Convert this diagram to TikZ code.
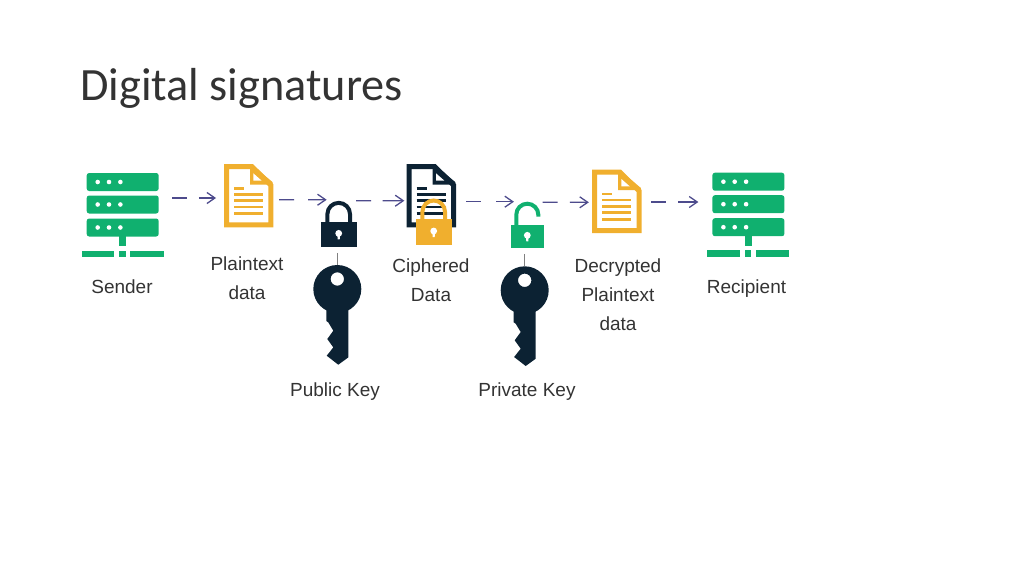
\documentclass[tikz,border=0pt]{standalone}
\usepackage{fontspec}
\setmainfont{Liberation Sans}
\newfontfamily\titlefont{Carlito}
\usetikzlibrary{arrows.meta}
\definecolor{servergreen}{HTML}{10B06F}
\definecolor{docorange}{HTML}{F0AF2E}
\definecolor{keynavy}{HTML}{0C2233}
\definecolor{flowblue}{HTML}{4D4B8C}
\definecolor{labelgray}{HTML}{333333}
\tikzset{
  icon/.style = {yscale=-1},
  iconbox/.style = {inner sep=0pt, outer sep=0pt},
  label/.style = {align=center, inner sep=0pt, text=labelgray, font=\fontsize{19}{29}\selectfont},
  flow/.style = {draw=flowblue, line width=1.2pt, dash pattern=on 15pt off #1 on 60pt, -{Straight Barb[length=8pt,width=11pt,line width=1.3pt]}},
  keylink/.style = {draw=gray, line width=1pt, shorten <=5.5pt},
  servericon/.pic = {
    \foreach \rowy in {-33,-10.5,12.5} {
      \fill[servergreen, rounded corners=2.5pt] (-36,\rowy-9) rectangle (36,\rowy+9);
      \foreach \dotx in {-25,-13.7,-2.3}
        \fill[white] (\dotx,\rowy) circle[radius=2.3];
    }
    \fill[servergreen] (-3.3,21) rectangle (3.3,31);
    \fill[servergreen] (-41,35.7) rectangle (-8.3,42.3);
    \fill[servergreen] (-3.6,35.7) rectangle (3,42.3);
    \fill[servergreen] (7.7,35.7) rectangle (41,42.3);
  },
  docicon/.pic = {
    \draw[#1, line width=5pt, fill=white, miter limit=4] (-22.2,-29.2) -- (3.2,-29.2) -- (22.2,-10.5) -- (22.2,29.2) -- (-22.2,29.2) -- cycle;
    \fill[#1] (1.3,-31) -- (3,-31) -- (24,-13.5) -- (24,-11.2) -- (1.3,-11.2) -- cycle;
    \fill[white] (4.6,-22.4) -- (4.6,-15) -- (13,-15) -- cycle;
    \draw[#1, line width=2.6pt] (-14.7,-7.4) -- (-4.7,-7.4);
    \foreach \liney in {-1.4,5,11.3,18}
      \draw[#1, line width=2.6pt] (-14.7,\liney) -- (14.6,\liney);
  },
  keyhole/.pic = {
    \fill[white] (0,0) circle[radius=3.4];
    \fill[white] (-1.4,1) -- (1.4,1) -- (1,6) -- (-1,6) -- cycle;
  },
  lockicon/.pic = {
    \draw[#1, line width=4pt] (-11.3,-24) -- (-11.3,-33.2) arc[start angle=180, end angle=360, radius=11.3] -- (11.3,-24);
    \fill[#1] (-18,-25.6) rectangle (18,0);
    \pic[icon] at (0,-14) {keyhole};
  },
  openlockicon/.pic = {
    \draw[#1, line width=4pt] (-11,-22) -- (-11,-33.6) arc[start angle=180, end angle=360, radius=11] -- (11,-31.6);
    \fill[#1] (-16.7,-23.3) rectangle (16.7,0);
    \pic[icon] at (0,-13) {keyhole};
  },
  keyicon/.pic = {
    \fill[keynavy, even odd rule] (0,24) circle[radius=24] (0,14) circle[radius=6.7];
    \fill[keynavy] (11,40) -- (11,92.4) -- (1,99.7) -- (-10.6,90.7) -- (-4,82.4) -- (-10,74) -- (-4,65.7) -- (-9,57.4) -- (-11,56) -- (-11,40) -- cycle;
  }
}
\begin{document}
\begin{tikzpicture}[x=1pt, y=1pt, yscale=-1]
  \useasboundingbox (0,0) rectangle (1024,576);
  \node [anchor=base west, inner sep=0pt, text=labelgray, font=\titlefont\fontsize{46.3}{50}\selectfont] (title) at (80,100) {Digital signatures};
  % icons
  \node [iconbox, minimum width=81.3, minimum height=84.6] (sender) at (122.7,215) {};
  \pic[icon] at (sender.center) {servericon};
  \node [iconbox, minimum width=49.3, minimum height=63.3] (plain) at (248.7,195.7) {};
  \pic[icon] at (plain.center) {docicon=docorange};
  \node [iconbox, minimum width=36, minimum height=46.3] (pubLock) at (338.7,224.2) {};
  \pic[icon] at (pubLock.south) {lockicon=keynavy};
  \node [iconbox, minimum width=48, minimum height=99] (pubKey) at (337.3,314.5) {};
  \pic[icon] at (pubKey.north) {keyicon};
  \node [iconbox, minimum width=49.3, minimum height=63.3] (cipher) at (431.4,195.7) {};
  \pic[icon] at (cipher.center) {docicon=keynavy};
  \node [iconbox, minimum width=36, minimum height=45] (cipherLock) at (433.7,222.5) {};
  \pic[icon] at (cipherLock.south) {lockicon=docorange};
  \node [iconbox, minimum width=33.3, minimum height=46.6] (priLock) at (527.3,225) {};
  \pic[icon] at (priLock.south) {openlockicon=servergreen};
  \node [iconbox, minimum width=48, minimum height=99] (priKey) at (524.7,315.8) {};
  \pic[icon] at (priKey.north) {keyicon};
  \node [iconbox, minimum width=49.3, minimum height=63.3] (decrypted) at (616.8,201.4) {};
  \pic[icon] at (decrypted.center) {docicon=docorange};
  \node [iconbox, minimum width=81.3, minimum height=84.6] (recipient) at (748.4,214.7) {};
  \pic[icon] at (recipient.center) {servericon};
  % labels
  \node [label] (senderText) at (122,287) {Sender};
  \node [label] (plainText) at (247,278.5) {Plaintext\\data};
  \node [label] (pubText) at (335,391.5) {Public Key};
  \node [label] (cipherText) at (431,280.5) {Ciphered\\Data};
  \node [label] (priText) at (527,391.5) {Private Key};
  \node [label] (decryptedText) at (618,294.5) {Decrypted\\Plaintext\\data};
  \node [label] (recipientText) at (746.5,288.5) {Recipient};
  % connectors
  \draw[flow=11.4pt] ([shift={(9,-17)}]sender.east) -- ([shift={(-8,2.3)}]plain.west);
  \draw[flow=14pt] ([shift={(5.7,4)}]plain.east) -- ([shift={(6,-1.3)}]pubLock.north west);
  \draw[flow=11.7pt] ([shift={(-0.7,-0.3)}]pubLock.north east) -- ([shift={(-2.4,5)}]cipher.west);
  \draw[flow=15pt] ([shift={(10.3,6)}]cipher.east) -- ([shift={(3.3,0)}]priLock.north west);
  \draw[flow=12.3pt] ([shift={(-1.3,0.6)}]priLock.north east) -- ([shift={(-3.3,0.9)}]decrypted.west);
  \draw[flow=12.3pt] ([shift={(9.7,0.6)}]decrypted.east) -- ([shift={(-9.4,-12.7)}]recipient.west);
  \draw[keylink] (pubLock.south -| pubKey.north) -- (pubKey.north);
  \draw[keylink] (priLock.south -| priKey.north) -- (priKey.north);
\end{tikzpicture}
\end{document}
